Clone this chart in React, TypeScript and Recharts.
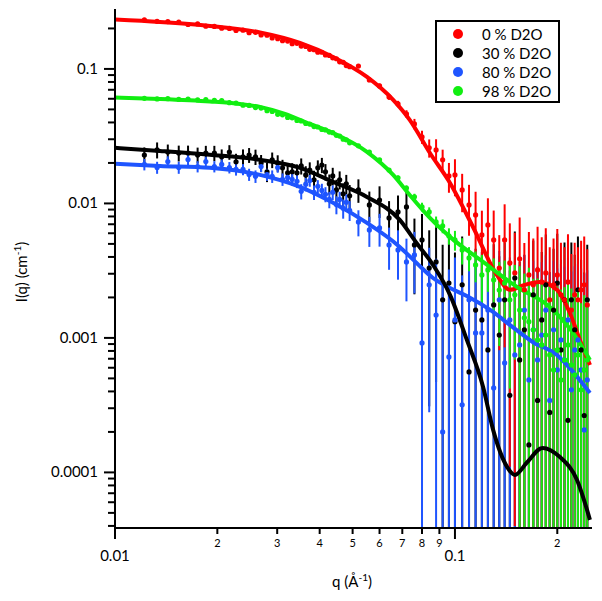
import {
  ComposedChart,
  Line,
  Scatter,
  ErrorBar,
  XAxis,
  YAxis,
  Legend,
  Label,
} from "recharts";

// measured q values (shared by all four contrasts)
const qData = [
  0.0122, 0.0133, 0.0143, 0.0154, 0.0164, 0.0175, 0.0185, 0.0196, 0.0206, 0.0217,
  0.0227, 0.0238, 0.0248, 0.0259, 0.0269, 0.028, 0.029, 0.0301, 0.0311, 0.0322,
  0.0332, 0.0343, 0.0353, 0.0364, 0.0374, 0.0385, 0.0395, 0.0406, 0.0416, 0.0427,
  0.0437, 0.0448, 0.0458, 0.0469, 0.0479, 0.049,
  0.052, 0.056, 0.06, 0.064, 0.068, 0.072, 0.076, 0.08, 0.084, 0.088, 0.092, 0.096,
  0.1, 0.105, 0.11, 0.115, 0.12, 0.125, 0.13, 0.135, 0.14, 0.145, 0.15, 0.155, 0.16,
  0.165, 0.17, 0.175, 0.18, 0.185, 0.19, 0.195, 0.2, 0.205, 0.21, 0.215, 0.22, 0.225,
  0.23, 0.235, 0.24, 0.245,
];

// 0 % D2O
const iRed = [
  0.232, 0.226, 0.225, 0.223, 0.214, 0.216, 0.208, 0.207, 0.201, 0.2,
  0.193, 0.194, 0.186, 0.187, 0.179, 0.178, 0.17, 0.168, 0.162, 0.161,
  0.154, 0.155, 0.148, 0.147, 0.14, 0.139, 0.133, 0.133, 0.127, 0.126,
  0.121, 0.119, 0.113, 0.112, 0.106, 0.104,
  0.105, 0.0828, 0.0747, 0.0619, 0.0549, 0.0463, 0.039, 0.0312, 0.0259, 0.025, 0.0211, 0.016,
  0.0163, 0.0126, 0.00975, 0.00821, 0.00583, 0.00692, 0.00535, 0.00331, 0.00535, 0.00361,
  0.00304, 0.00387, 0.00228, 0.00294, 0.00248, 0.0032, 0.00261, 0.00304, 0.00192, 0.00248,
  0.00294, 0.00209, 0.00192, 0.00261, 0.00161, 0.00209, 0.00192, 0.00228, 0.00248, 0.00176,
];
const eRed = [
  0.0035, 0.0034, 0.0034, 0.0033, 0.0032, 0.0032, 0.0031, 0.0031, 0.003, 0.003,
  0.0029, 0.0029, 0.0028, 0.0028, 0.0027, 0.0027, 0.0026, 0.0025, 0.0024, 0.0024,
  0.0023, 0.0023, 0.0022, 0.0022, 0.0021, 0.0021, 0.002, 0.002, 0.0019, 0.0019,
  0.0018, 0.0018, 0.0017, 0.0017, 0.0016, 0.0016,
  0.003, 0.003, 0.003, 0.003, 0.003, 0.003, 0.0035, 0.0035, 0.004, 0.005, 0.004, 0.004,
  0.005, 0.004, 0.004, 0.004, 0.003, 0.004, 0.0035, 0.0025, 0.0045, 0.0035,
  0.003, 0.004, 0.0028, 0.0032, 0.003, 0.0035, 0.003, 0.0035, 0.0028, 0.003,
  0.0035, 0.003, 0.0028, 0.0033, 0.0026, 0.003, 0.0028, 0.003, 0.0032, 0.0028,
];

// 30 % D2O
const iBlack = [
  0.0229, 0.025, 0.0241, 0.0237, 0.0237, 0.0229, 0.0237, 0.0237, 0.0222, 0.0241,
  0.0204, 0.0222, 0.0229, 0.0222, 0.02, 0.0172, 0.0211, 0.02, 0.0184, 0.0169,
  0.0172, 0.0169, 0.019, 0.0163, 0.0177, 0.015, 0.0184, 0.0193, 0.0172, 0.014,
  0.016, 0.0126, 0.015, 0.0118, 0.014, 0.0114,
  0.0126, 0.00975, 0.0106, 0.0078, 0.00865, 0.00942, 0.00491, 0.00535, 0.00331, 0.00367, 0.00192, 0.00256,
  0.00132, 0.00248, 0.000559, 0.00161, 0.00136, 0.000814, 0.00176, 0.00105, 0.00192, 0.000374,
  0.00279, 0.000686, 0.00115, 0.00016, 0.00209, 0.000343, 0.00136, 0.00248, 0.000279, 0.00161,
  0.00256, 0.000814, 0.00192, 0.000244, 0.00192, 0.00115, 0.00228, 0.000814, 0.000265, 0.00192,
];
const eBlack = [
  0.0032, 0.0034, 0.0033, 0.0032, 0.0032, 0.0031, 0.0031, 0.0031, 0.003, 0.003,
  0.003, 0.003, 0.0029, 0.0029, 0.0029, 0.0028, 0.0028, 0.0028, 0.0027, 0.0027,
  0.0027, 0.0026, 0.0026, 0.0026, 0.0025, 0.0025, 0.0025, 0.0025, 0.0024, 0.0024,
  0.0024, 0.0024, 0.0023, 0.0023, 0.0023, 0.0023,
  0.0025, 0.0025, 0.0028, 0.0026, 0.0028, 0.003, 0.0028, 0.003, 0.003, 0.0032, 0.003, 0.0032,
  0.003, 0.0032, 0.0028, 0.003, 0.003, 0.0028, 0.0032, 0.003, 0.0032, 0.0028,
  0.0034, 0.003, 0.003, 0.0028, 0.0032, 0.003, 0.003, 0.0034, 0.0028, 0.003,
  0.0034, 0.003, 0.0032, 0.0028, 0.0032, 0.003, 0.0034, 0.003, 0.0028, 0.003,
];

// 80 % D2O
const iBlue = [
  0.0195, 0.0185, 0.0205, 0.0185, 0.0212, 0.0188, 0.0205, 0.0188, 0.0195, 0.0185,
  0.0179, 0.0179, 0.0164, 0.0159, 0.0188, 0.0164, 0.0159, 0.0185, 0.0151, 0.0156,
  0.0151, 0.0146, 0.0123, 0.0139, 0.0148, 0.0121, 0.0134, 0.0125, 0.0117, 0.0107,
  0.0121, 0.0098, 0.0107, 0.0092, 0.0102, 0.0089,
  0.00729, 0.00635, 0.00657, 0.00491, 0.00451, 0.00367, 0.00414, 0.000918, 0.00248, 0.00148, 0.0002, 0.000722,
  0.00136, 0.000318, 0.00192, 0.00109, 0.00109, 0.00161, 0.000425, 0.00192, 0.000652, 0.00136,
  0.000747, 0.000887, 0.00161, 0.000487, 0.00115, 0.000686, 0.00105, 0.00161, 0.000343, 0.00115,
  0.000578, 0.000966, 0.000686, 0.00136, 0.000411, 0.000814, 0.000966, 0.000578, 0.000207, 0.000487,
];
const eBlue = [
  0.0019, 0.0019, 0.0019, 0.0019, 0.0019, 0.0018, 0.0018, 0.0018, 0.0018, 0.0018,
  0.0018, 0.0017, 0.0017, 0.0017, 0.0017, 0.0017, 0.0017, 0.0016, 0.0016, 0.0016,
  0.0016, 0.0016, 0.0016, 0.0016, 0.0015, 0.0015, 0.0015, 0.0015, 0.0015, 0.0015,
  0.0015, 0.0015, 0.0015, 0.0015, 0.0015, 0.0015,
  0.0016, 0.0016, 0.0018, 0.0017, 0.0018, 0.0018, 0.002, 0.0025, 0.0022, 0.0024, 0.0026, 0.0025,
  0.0026, 0.0026, 0.0024, 0.0026, 0.0025, 0.0026, 0.0027, 0.0025, 0.0027, 0.0026,
  0.0027, 0.0026, 0.0025, 0.0027, 0.0026, 0.0027, 0.0026, 0.0025, 0.0027, 0.0026,
  0.0027, 0.0026, 0.0027, 0.0026, 0.0027, 0.0026, 0.0026, 0.0027, 0.0028, 0.0027,
];

// 98 % D2O
const iGreen = [
  0.0605, 0.0598, 0.0601, 0.0593, 0.0597, 0.0588, 0.0592, 0.0585, 0.0582, 0.0561,
  0.0558, 0.0538, 0.0535, 0.0516, 0.0512, 0.0489, 0.0483, 0.046, 0.0456, 0.0436,
  0.0433, 0.0414, 0.041, 0.0393, 0.0389, 0.0373, 0.037, 0.0355, 0.0352, 0.0339,
  0.0336, 0.0321, 0.0317, 0.03, 0.0297, 0.0282,
  0.0268, 0.0241, 0.0211, 0.0177, 0.0155, 0.013, 0.0112, 0.00942, 0.00865, 0.00729, 0.0068, 0.00573,
  0.00535, 0.00451, 0.00393, 0.00349, 0.00294, 0.0032, 0.0027, 0.00227, 0.00256, 0.00192,
  0.00209, 0.00161, 0.00141, 0.00132, 0.00115, 0.000966, 0.000887, 0.00105, 0.000747, 0.000578,
  0.000814, 0.000487, 0.000686, 0.000887, 0.00063, 0.000531, 0.000747, 0.000411, 0.000578, 0.000686,
];
const eGreen = [
  0.0009, 0.0009, 0.0009, 0.0009, 0.0009, 0.0009, 0.0009, 0.0009, 0.0008, 0.0008,
  0.0008, 0.0008, 0.0008, 0.0008, 0.0008, 0.0008, 0.0007, 0.0007, 0.0007, 0.0007,
  0.0007, 0.0007, 0.0007, 0.0007, 0.0006, 0.0006, 0.0006, 0.0006, 0.0006, 0.0006,
  0.0005, 0.0005, 0.0005, 0.0005, 0.0005, 0.0005,
  0.0006, 0.0006, 0.0006, 0.0006, 0.0006, 0.0006, 0.0006, 0.0007, 0.0007, 0.0007, 0.0008, 0.0008,
  0.0009, 0.001, 0.0008, 0.0009, 0.0012, 0.001, 0.0012, 0.0014, 0.0012, 0.0015,
  0.0014, 0.0018, 0.0016, 0.002, 0.0016, 0.0018, 0.0017, 0.0016, 0.0018, 0.0017,
  0.0016, 0.0018, 0.0017, 0.0016, 0.0017, 0.0015, 0.0016, 0.0014, 0.0015, 0.0012,
];

// model fits
const redFitQ = [0.01, 0.01356, 0.01903, 0.0267, 0.035, 0.0438, 0.0551, 0.0658, 0.0736, 0.0844, 0.0967, 0.113, 0.1328, 0.145, 0.1604, 0.1773, 0.1995, 0.2178, 0.233, 0.2495];
const redFitI = [0.2333, 0.2236, 0.2088, 0.1867, 0.1561, 0.1227, 0.0872, 0.0589, 0.0418, 0.0237, 0.0142, 0.00668, 0.00294, 0.00228, 0.00248, 0.00261, 0.00228, 0.00153, 0.000966, 0.00063];
const blackFitQ = [0.01, 0.01356, 0.019, 0.0267, 0.035, 0.0438, 0.0551, 0.0688, 0.0771, 0.0862, 0.0967, 0.1084, 0.121, 0.1295, 0.1423, 0.1501, 0.1626, 0.181, 0.2036, 0.2286, 0.2495];
const blackFitI = [0.0259, 0.02457, 0.023, 0.0211, 0.0184, 0.01445, 0.01117, 0.00754, 0.00508, 0.00349, 0.00209, 0.000966, 0.000432, 0.000207, 0.00011, 0.0000958, 0.000118, 0.000152, 0.00013, 0.0000879, 0.0000444];
const blueFitQ = [0.01, 0.01356, 0.019, 0.0267, 0.035, 0.0438, 0.0551, 0.0688, 0.0771, 0.0862, 0.0967, 0.1084, 0.1295, 0.145, 0.1693, 0.1995, 0.2225, 0.2495];
const blueFitI = [0.0197, 0.019, 0.0184, 0.0163, 0.01327, 0.0101, 0.00716, 0.00475, 0.00361, 0.00279, 0.00235, 0.00205, 0.00156, 0.00125, 0.000933, 0.000747, 0.000559, 0.00039];
const greenFitQ = [0.01, 0.01356, 0.01903, 0.02331, 0.0267, 0.03162, 0.0374, 0.0438, 0.0551, 0.0658, 0.0736, 0.0844, 0.0967, 0.121, 0.1523, 0.19, 0.2225, 0.2495];
const greenFitI = [0.0612, 0.0598, 0.0573, 0.0549, 0.0522, 0.0463, 0.039, 0.0334, 0.0242, 0.0163, 0.01156, 0.0078, 0.00564, 0.00367, 0.00239, 0.0017, 0.00109, 0.000686];

const seriesNames = ["0 % D2O", "30 % D2O", "80 % D2O", "98 % D2O"];
const seriesColors = ["#ff0000", "#000000", "#1f55ff", "#11ee11"];

const xTicks = [0.01, 0.02, 0.03, 0.04, 0.05, 0.06, 0.07, 0.08, 0.09, 0.1, 0.2];
const xTickLabels = ["0.01", "2", "3", "4", "5", "6", "7", "8", "9", "0.1", "2"];
const yTicks = [
  0.00004, 0.00005, 0.00006, 0.00007, 0.00008, 0.00009,
  0.0001, 0.0002, 0.0003, 0.0004, 0.0005, 0.0006, 0.0007, 0.0008, 0.0009,
  0.001, 0.002, 0.003, 0.004, 0.005, 0.006, 0.007, 0.008, 0.009,
  0.01, 0.02, 0.03, 0.04, 0.05, 0.06, 0.07, 0.08, 0.09,
  0.1, 0.2,
];
const yTickLabels = [
  "", "", "", "", "", "",
  "0.0001", "", "", "", "", "", "", "", "",
  "0.001", "", "", "", "", "", "", "", "",
  "0.01", "", "", "", "", "", "", "", "",
  "0.1", "",
];

const X_DOMAIN = [0.01, 0.253];
const Y_DOMAIN = [3.86e-5, 0.279];
const FONT = "Lato, 'DejaVu Sans', sans-serif";

// error bars below zero can't go on a log axis: stop them at the bottom of the plot
const points = (I: number[], err: number[]) =>
  qData.map((q, i) => ({
    q,
    I: I[i],
    e: [I[i] - Math.max(I[i] - err[i], Y_DOMAIN[0]), err[i]],
  }));

const fit = (qs: number[], I: number[]) => qs.map((q, i) => ({ q, I: I[i] }));

const dot = (color: string) => (props: any) =>
  <circle cx={props.cx} cy={props.cy} r={2.6} fill={color} />;

const XTick = (props: any) => {
  const { x, y, index } = props;
  const label = xTickLabels[index];
  const major = label.startsWith("0.");
  return (
    <g>
      <line x1={x} x2={x} y1={y} y2={y + (major ? 11 : 6)} stroke="#000" strokeWidth={2} />
      <text
        x={x}
        y={y + (major ? 33 : 19)}
        textAnchor="middle"
        fontSize={major ? 15 : 11}
        fill="#000"
      >
        {label}
      </text>
    </g>
  );
};

const YTick = (props: any) => {
  const { x, y, index } = props;
  const label = yTickLabels[index];
  const major = label !== "";
  return (
    <g>
      <line x1={x - (major ? 11 : 7)} x2={x} y1={y} y2={y} stroke="#000" strokeWidth={2} />
      {major && (
        <text x={x - 17} y={y + 5} textAnchor="end" fontSize={15} fill="#000">
          {label}
        </text>
      )}
    </g>
  );
};

const LegendBox = () => (
  <div
    style={{
      boxSizing: "border-box",
      width: 125,
      height: 83,
      border: "2px solid #000",
      background: "#fff",
      paddingTop: 2,
      fontFamily: FONT,
      fontSize: 15,
      color: "#000",
    }}
  >
    {seriesNames.map((name, i) => (
      <div key={name} style={{ display: "flex", alignItems: "center", height: 19 }}>
        <span
          style={{
            width: 10,
            height: 10,
            borderRadius: 5,
            background: seriesColors[i],
            marginLeft: 16,
            marginRight: 19,
          }}
        />
        <span>{name}</span>
      </div>
    ))}
  </div>
);

export default function App() {
  const scatterSeries = [
    { data: points(iBlack, eBlack), color: seriesColors[1] },
    { data: points(iBlue, eBlue), color: seriesColors[2] },
    { data: points(iRed, eRed), color: seriesColors[0] },
    { data: points(iGreen, eGreen), color: seriesColors[3] },
  ];
  const fitSeries = [
    { data: fit(blueFitQ, blueFitI), color: seriesColors[2] },
    { data: fit(blackFitQ, blackFitI), color: seriesColors[1] },
    { data: fit(redFitQ, redFitI), color: seriesColors[0] },
    { data: fit(greenFitQ, greenFitI), color: seriesColors[3] },
  ];

  return (
    <div style={{ position: "absolute", left: 0, top: 0, width: 602, height: 601, background: "#fff" }}>
      <ComposedChart
        width={602}
        height={601}
        margin={{ top: 9, right: 10, bottom: 0, left: 0 }}
        style={{ fontFamily: FONT }}
      >
        <XAxis
          type="number"
          dataKey="q"
          scale="log"
          domain={X_DOMAIN}
          allowDataOverflow
          ticks={xTicks}
          interval={0}
          tick={<XTick />}
          tickLine={false}
          tickSize={0}
          tickMargin={0}
          axisLine={{ stroke: "#000", strokeWidth: 2 }}
          height={73}
        >
          <Label
            content={() => (
              <text x={352} y={587} textAnchor="middle" fontSize={15} fill="#000" fontFamily={FONT}>
                q (Å<tspan dy={-6} fontSize={10}>-1</tspan>
                <tspan dy={6}>)</tspan>
              </text>
            )}
          />
        </XAxis>
        <YAxis
          type="number"
          dataKey="I"
          scale="log"
          domain={Y_DOMAIN}
          allowDataOverflow
          ticks={yTicks}
          interval={0}
          tick={<YTick />}
          tickLine={false}
          tickSize={0}
          tickMargin={0}
          axisLine={{ stroke: "#000", strokeWidth: 2 }}
          width={115}
        >
          <Label
            content={() => (
              <text
                x={27}
                y={272}
                transform="rotate(-90 27 272)"
                textAnchor="middle"
                fontSize={15}
                fill="#000"
                fontFamily={FONT}
              >
                I(q) (cm<tspan dy={-6} fontSize={10}>-1</tspan>
                <tspan dy={6}>)</tspan>
              </text>
            )}
          />
        </YAxis>
        <Legend
          layout="horizontal"
          verticalAlign="middle"
          align="center"
          wrapperStyle={{ left: 435, top: 20, width: 125, height: 83 }}
          content={() => <LegendBox />}
        />
        {scatterSeries.map((s, i) => (
          <Scatter
            key={"pts" + i}
            data={s.data}
            dataKey="I"
            fill={s.color}
            shape={dot(s.color)}
            isAnimationActive={false}
          >
            <ErrorBar
              dataKey="e"
              direction="y"
              width={0}
              stroke={s.color}
              strokeWidth={2}
              isAnimationActive={false}
            />
          </Scatter>
        ))}
        {fitSeries.map((s, i) => (
          <Line
            key={"fit" + i}
            data={s.data}
            dataKey="I"
            type="monotone"
            stroke={s.color}
            strokeWidth={4}
            dot={false}
            activeDot={false}
            isAnimationActive={false}
          />
        ))}
      </ComposedChart>
    </div>
  );
}
